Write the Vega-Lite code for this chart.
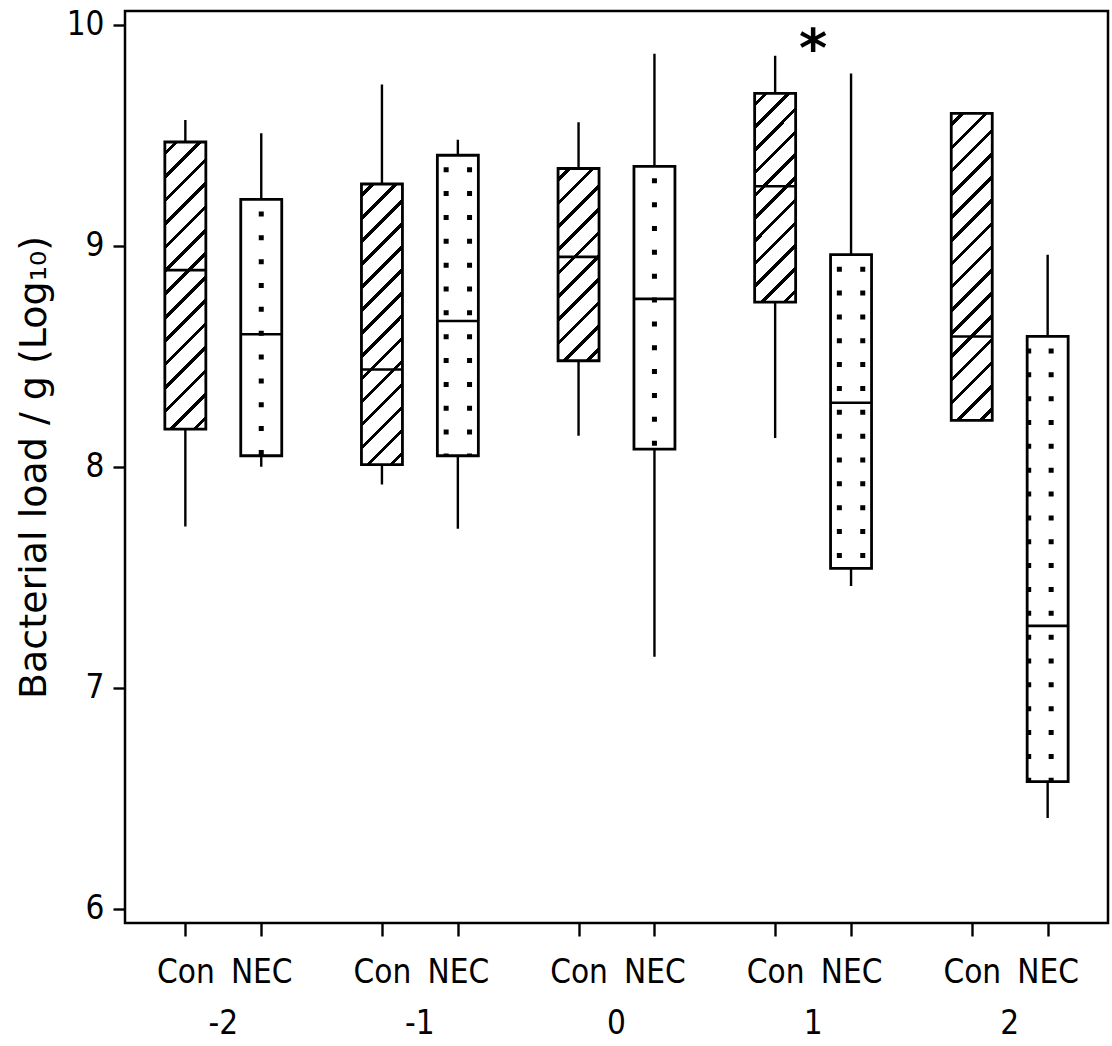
{
  "$schema": "https://vega.github.io/schema/vega-lite/v6.json",
  "width": 983,
  "height": 912,
  "autosize": {"type": "none"},
  "padding": {"left": 125, "top": 11, "right": 4, "bottom": 123},
  "background": "white",
  "config": {
    "view": {"stroke": "black", "strokeWidth": 2.5},
    "axis": {
      "labelFont": "DejaVu Sans Condensed",
      "labelFontSize": 33,
      "labelColor": "black",
      "tickColor": "black",
      "tickWidth": 2.4,
      "domain": false,
      "grid": false,
      "titleColor": "black"
    }
  },
  "data": {
    "values": [
      {"group": "-2", "treatment": "Con", "lower": 7.73, "q1": 8.17, "median": 8.89, "q3": 9.47, "upper": 9.57},
      {"group": "-2", "treatment": "NEC", "lower": 8.0, "q1": 8.05, "median": 8.6, "q3": 9.21, "upper": 9.51},
      {"group": "-1", "treatment": "Con", "lower": 7.92, "q1": 8.01, "median": 8.44, "q3": 9.28, "upper": 9.73},
      {"group": "-1", "treatment": "NEC", "lower": 7.72, "q1": 8.05, "median": 8.66, "q3": 9.41, "upper": 9.48},
      {"group": "0", "treatment": "Con", "lower": 8.14, "q1": 8.48, "median": 8.95, "q3": 9.35, "upper": 9.56},
      {"group": "0", "treatment": "NEC", "lower": 7.14, "q1": 8.08, "median": 8.76, "q3": 9.36, "upper": 9.87},
      {"group": "1", "treatment": "Con", "lower": 8.13, "q1": 8.745, "median": 9.27, "q3": 9.69, "upper": 9.86},
      {"group": "1", "treatment": "NEC", "lower": 7.46, "q1": 7.54, "median": 8.29, "q3": 8.96, "upper": 9.78},
      {"group": "2", "treatment": "Con", "lower": 8.21, "q1": 8.21, "median": 8.59, "q3": 9.6, "upper": 9.6},
      {"group": "2", "treatment": "NEC", "lower": 6.41, "q1": 6.575, "median": 7.28, "q3": 8.59, "upper": 8.96}
    ]
  },
  "resolve": {"axis": {"x": "independent", "y": "independent"}},
  "layer": [
    {
      "mark": {"type": "rule", "strokeWidth": 2.4, "color": "black"},
      "encoding": {
        "x": {"field": "group", "type": "nominal", "scale": {"domain": ["-2", "-1", "0", "1", "2"], "paddingInner": 0, "paddingOuter": 0},
              "axis": {"orient": "bottom", "title": null, "labelExpr": "'Con'", "tickOffset": -37.95, "tickSize": 13, "labelPadding": 20, "labelAngle": 0}},
        "xOffset": {"field": "treatment", "type": "nominal", "scale": {"domain": ["Con", "NEC"], "paddingInner": 0.46, "paddingOuter": 0.525}},
        "y": {"field": "lower", "type": "quantitative", "scale": {"domain": [5.935, 10.063], "nice": false, "zero": false},
              "axis": {"orient": "left", "title": "Bacterial load / g (Log₁₀)", "values": [6, 7, 8, 9, 10], "tickSize": 12, "labelPadding": 9,
                       "titleFont": "DejaVu Sans", "titleFontSize": 38, "titleFontWeight": "normal", "titlePadding": 13}},
        "y2": {"field": "upper"}
      }
    },
    {
      "mark": {"type": "bar", "stroke": "black", "strokeWidth": 2.8},
      "encoding": {
        "x": {"field": "group", "type": "nominal", "scale": {"domain": ["-2", "-1", "0", "1", "2"], "paddingInner": 0, "paddingOuter": 0},
              "axis": {"orient": "bottom", "title": null, "labelExpr": "'NEC'", "tickOffset": 37.95, "tickSize": 13, "labelPadding": 20, "labelAngle": 0}},
        "xOffset": {"field": "treatment", "type": "nominal", "scale": {"domain": ["Con", "NEC"], "paddingInner": 0.46, "paddingOuter": 0.525}},
        "y": {"field": "q1", "type": "quantitative", "axis": null},
        "y2": {"field": "q3"},
        "fill": {
          "condition": [
            {"test": "datum.treatment === 'Con' && datum.group === '-2'", "value": {"gradient": "linear", "x1": 0, "y1": 0, "x2": 0.1597, "y2": 1.12, "stops": [
              {"offset": 0, "color": "white"},
              {"offset": 0.0286, "color": "white"}, {"offset": 0.0286, "color": "black"}, {"offset": 0.0429, "color": "black"}, {"offset": 0.0429, "color": "white"},
              {"offset": 0.1000, "color": "white"}, {"offset": 0.1000, "color": "black"}, {"offset": 0.1143, "color": "black"}, {"offset": 0.1143, "color": "white"},
              {"offset": 0.1714, "color": "white"}, {"offset": 0.1714, "color": "black"}, {"offset": 0.1857, "color": "black"}, {"offset": 0.1857, "color": "white"},
              {"offset": 0.2429, "color": "white"}, {"offset": 0.2429, "color": "black"}, {"offset": 0.2571, "color": "black"}, {"offset": 0.2571, "color": "white"},
              {"offset": 0.3143, "color": "white"}, {"offset": 0.3143, "color": "black"}, {"offset": 0.3286, "color": "black"}, {"offset": 0.3286, "color": "white"},
              {"offset": 0.3857, "color": "white"}, {"offset": 0.3857, "color": "black"}, {"offset": 0.4000, "color": "black"}, {"offset": 0.4000, "color": "white"},
              {"offset": 0.4571, "color": "white"}, {"offset": 0.4571, "color": "black"}, {"offset": 0.4714, "color": "black"}, {"offset": 0.4714, "color": "white"},
              {"offset": 0.5286, "color": "white"}, {"offset": 0.5286, "color": "black"}, {"offset": 0.5429, "color": "black"}, {"offset": 0.5429, "color": "white"},
              {"offset": 0.6000, "color": "white"}, {"offset": 0.6000, "color": "black"}, {"offset": 0.6143, "color": "black"}, {"offset": 0.6143, "color": "white"},
              {"offset": 0.6714, "color": "white"}, {"offset": 0.6714, "color": "black"}, {"offset": 0.6857, "color": "black"}, {"offset": 0.6857, "color": "white"},
              {"offset": 0.7429, "color": "white"}, {"offset": 0.7429, "color": "black"}, {"offset": 0.7571, "color": "black"}, {"offset": 0.7571, "color": "white"},
              {"offset": 0.8143, "color": "white"}, {"offset": 0.8143, "color": "black"}, {"offset": 0.8286, "color": "black"}, {"offset": 0.8286, "color": "white"},
              {"offset": 0.8857, "color": "white"}, {"offset": 0.8857, "color": "black"}, {"offset": 0.9000, "color": "black"}, {"offset": 0.9000, "color": "white"},
              {"offset": 0.9571, "color": "white"}, {"offset": 0.9571, "color": "black"}, {"offset": 0.9714, "color": "black"}, {"offset": 0.9714, "color": "white"},
              {"offset": 1, "color": "white"}]}},
            {"test": "datum.treatment === 'Con' && datum.group === '-1'", "value": {"gradient": "linear", "x1": 0, "y1": 0, "x2": 0.1641, "y2": 1.1222, "stops": [
              {"offset": 0, "color": "white"},
              {"offset": 0.0286, "color": "white"}, {"offset": 0.0286, "color": "black"}, {"offset": 0.0429, "color": "black"}, {"offset": 0.0429, "color": "white"},
              {"offset": 0.1000, "color": "white"}, {"offset": 0.1000, "color": "black"}, {"offset": 0.1143, "color": "black"}, {"offset": 0.1143, "color": "white"},
              {"offset": 0.1714, "color": "white"}, {"offset": 0.1714, "color": "black"}, {"offset": 0.1857, "color": "black"}, {"offset": 0.1857, "color": "white"},
              {"offset": 0.2429, "color": "white"}, {"offset": 0.2429, "color": "black"}, {"offset": 0.2571, "color": "black"}, {"offset": 0.2571, "color": "white"},
              {"offset": 0.3143, "color": "white"}, {"offset": 0.3143, "color": "black"}, {"offset": 0.3286, "color": "black"}, {"offset": 0.3286, "color": "white"},
              {"offset": 0.3857, "color": "white"}, {"offset": 0.3857, "color": "black"}, {"offset": 0.4000, "color": "black"}, {"offset": 0.4000, "color": "white"},
              {"offset": 0.4571, "color": "white"}, {"offset": 0.4571, "color": "black"}, {"offset": 0.4714, "color": "black"}, {"offset": 0.4714, "color": "white"},
              {"offset": 0.5286, "color": "white"}, {"offset": 0.5286, "color": "black"}, {"offset": 0.5429, "color": "black"}, {"offset": 0.5429, "color": "white"},
              {"offset": 0.6000, "color": "white"}, {"offset": 0.6000, "color": "black"}, {"offset": 0.6143, "color": "black"}, {"offset": 0.6143, "color": "white"},
              {"offset": 0.6714, "color": "white"}, {"offset": 0.6714, "color": "black"}, {"offset": 0.6857, "color": "black"}, {"offset": 0.6857, "color": "white"},
              {"offset": 0.7429, "color": "white"}, {"offset": 0.7429, "color": "black"}, {"offset": 0.7571, "color": "black"}, {"offset": 0.7571, "color": "white"},
              {"offset": 0.8143, "color": "white"}, {"offset": 0.8143, "color": "black"}, {"offset": 0.8286, "color": "black"}, {"offset": 0.8286, "color": "white"},
              {"offset": 0.8857, "color": "white"}, {"offset": 0.8857, "color": "black"}, {"offset": 0.9000, "color": "black"}, {"offset": 0.9000, "color": "white"},
              {"offset": 0.9571, "color": "white"}, {"offset": 0.9571, "color": "black"}, {"offset": 0.9714, "color": "black"}, {"offset": 0.9714, "color": "white"},
              {"offset": 1, "color": "white"}]}},
            {"test": "datum.treatment === 'Con' && datum.group === '0'", "value": {"gradient": "linear", "x1": 0, "y1": 0, "x2": 0.2467, "y2": 1.1602, "stops": [
              {"offset": 0, "color": "white"},
              {"offset": 0.04, "color": "white"}, {"offset": 0.04, "color": "black"}, {"offset": 0.06, "color": "black"}, {"offset": 0.06, "color": "white"},
              {"offset": 0.14, "color": "white"}, {"offset": 0.14, "color": "black"}, {"offset": 0.16, "color": "black"}, {"offset": 0.16, "color": "white"},
              {"offset": 0.24, "color": "white"}, {"offset": 0.24, "color": "black"}, {"offset": 0.26, "color": "black"}, {"offset": 0.26, "color": "white"},
              {"offset": 0.34, "color": "white"}, {"offset": 0.34, "color": "black"}, {"offset": 0.36, "color": "black"}, {"offset": 0.36, "color": "white"},
              {"offset": 0.44, "color": "white"}, {"offset": 0.44, "color": "black"}, {"offset": 0.46, "color": "black"}, {"offset": 0.46, "color": "white"},
              {"offset": 0.54, "color": "white"}, {"offset": 0.54, "color": "black"}, {"offset": 0.56, "color": "black"}, {"offset": 0.56, "color": "white"},
              {"offset": 0.64, "color": "white"}, {"offset": 0.64, "color": "black"}, {"offset": 0.66, "color": "black"}, {"offset": 0.66, "color": "white"},
              {"offset": 0.74, "color": "white"}, {"offset": 0.74, "color": "black"}, {"offset": 0.76, "color": "black"}, {"offset": 0.76, "color": "white"},
              {"offset": 0.84, "color": "white"}, {"offset": 0.84, "color": "black"}, {"offset": 0.86, "color": "black"}, {"offset": 0.86, "color": "white"},
              {"offset": 0.94, "color": "white"}, {"offset": 0.94, "color": "black"}, {"offset": 0.96, "color": "black"}, {"offset": 0.96, "color": "white"},
              {"offset": 1, "color": "white"}]}},
            {"test": "datum.treatment === 'Con' && datum.group === '1'", "value": {"gradient": "linear", "x1": 0, "y1": 0, "x2": 0.2274, "y2": 1.1524, "stops": [
              {"offset": 0, "color": "white"},
              {"offset": 0.0364, "color": "white"}, {"offset": 0.0364, "color": "black"}, {"offset": 0.0545, "color": "black"}, {"offset": 0.0545, "color": "white"},
              {"offset": 0.1273, "color": "white"}, {"offset": 0.1273, "color": "black"}, {"offset": 0.1455, "color": "black"}, {"offset": 0.1455, "color": "white"},
              {"offset": 0.2182, "color": "white"}, {"offset": 0.2182, "color": "black"}, {"offset": 0.2364, "color": "black"}, {"offset": 0.2364, "color": "white"},
              {"offset": 0.3091, "color": "white"}, {"offset": 0.3091, "color": "black"}, {"offset": 0.3273, "color": "black"}, {"offset": 0.3273, "color": "white"},
              {"offset": 0.4000, "color": "white"}, {"offset": 0.4000, "color": "black"}, {"offset": 0.4182, "color": "black"}, {"offset": 0.4182, "color": "white"},
              {"offset": 0.4909, "color": "white"}, {"offset": 0.4909, "color": "black"}, {"offset": 0.5091, "color": "black"}, {"offset": 0.5091, "color": "white"},
              {"offset": 0.5818, "color": "white"}, {"offset": 0.5818, "color": "black"}, {"offset": 0.6000, "color": "black"}, {"offset": 0.6000, "color": "white"},
              {"offset": 0.6727, "color": "white"}, {"offset": 0.6727, "color": "black"}, {"offset": 0.6909, "color": "black"}, {"offset": 0.6909, "color": "white"},
              {"offset": 0.7636, "color": "white"}, {"offset": 0.7636, "color": "black"}, {"offset": 0.7818, "color": "black"}, {"offset": 0.7818, "color": "white"},
              {"offset": 0.8545, "color": "white"}, {"offset": 0.8545, "color": "black"}, {"offset": 0.8727, "color": "black"}, {"offset": 0.8727, "color": "white"},
              {"offset": 0.9455, "color": "white"}, {"offset": 0.9455, "color": "black"}, {"offset": 0.9636, "color": "black"}, {"offset": 0.9636, "color": "white"},
              {"offset": 1, "color": "white"}]}},
            {"test": "datum.treatment === 'Con' && datum.group === '2'", "value": {"gradient": "linear", "x1": 0, "y1": 0, "x2": 0.1485, "y2": 1.1136, "stops": [
              {"offset": 0, "color": "white"},
              {"offset": 0.0267, "color": "white"}, {"offset": 0.0267, "color": "black"}, {"offset": 0.0400, "color": "black"}, {"offset": 0.0400, "color": "white"},
              {"offset": 0.0933, "color": "white"}, {"offset": 0.0933, "color": "black"}, {"offset": 0.1067, "color": "black"}, {"offset": 0.1067, "color": "white"},
              {"offset": 0.1600, "color": "white"}, {"offset": 0.1600, "color": "black"}, {"offset": 0.1733, "color": "black"}, {"offset": 0.1733, "color": "white"},
              {"offset": 0.2267, "color": "white"}, {"offset": 0.2267, "color": "black"}, {"offset": 0.2400, "color": "black"}, {"offset": 0.2400, "color": "white"},
              {"offset": 0.2933, "color": "white"}, {"offset": 0.2933, "color": "black"}, {"offset": 0.3067, "color": "black"}, {"offset": 0.3067, "color": "white"},
              {"offset": 0.3600, "color": "white"}, {"offset": 0.3600, "color": "black"}, {"offset": 0.3733, "color": "black"}, {"offset": 0.3733, "color": "white"},
              {"offset": 0.4267, "color": "white"}, {"offset": 0.4267, "color": "black"}, {"offset": 0.4400, "color": "black"}, {"offset": 0.4400, "color": "white"},
              {"offset": 0.4933, "color": "white"}, {"offset": 0.4933, "color": "black"}, {"offset": 0.5067, "color": "black"}, {"offset": 0.5067, "color": "white"},
              {"offset": 0.5600, "color": "white"}, {"offset": 0.5600, "color": "black"}, {"offset": 0.5733, "color": "black"}, {"offset": 0.5733, "color": "white"},
              {"offset": 0.6267, "color": "white"}, {"offset": 0.6267, "color": "black"}, {"offset": 0.6400, "color": "black"}, {"offset": 0.6400, "color": "white"},
              {"offset": 0.6933, "color": "white"}, {"offset": 0.6933, "color": "black"}, {"offset": 0.7067, "color": "black"}, {"offset": 0.7067, "color": "white"},
              {"offset": 0.7600, "color": "white"}, {"offset": 0.7600, "color": "black"}, {"offset": 0.7733, "color": "black"}, {"offset": 0.7733, "color": "white"},
              {"offset": 0.8267, "color": "white"}, {"offset": 0.8267, "color": "black"}, {"offset": 0.8400, "color": "black"}, {"offset": 0.8400, "color": "white"},
              {"offset": 0.8933, "color": "white"}, {"offset": 0.8933, "color": "black"}, {"offset": 0.9067, "color": "black"}, {"offset": 0.9067, "color": "white"},
              {"offset": 0.9600, "color": "white"}, {"offset": 0.9600, "color": "black"}, {"offset": 0.9733, "color": "black"}, {"offset": 0.9733, "color": "white"},
              {"offset": 1, "color": "white"}]}}
          ],
          "value": "white"
        }
      }
    },
    {
      "transform": [{"filter": "datum.treatment === 'NEC' && (datum.group === '-2' || datum.group === '0')"}],
      "mark": {"type": "rule", "strokeWidth": 5, "strokeDash": [5, 18.85], "strokeDashOffset": 11.85, "strokeCap": "butt", "color": "black"},
      "encoding": {
        "x": {"field": "group", "type": "nominal", "axis": null},
        "xOffset": {"value": 136.25},
        "y": {"field": "q3", "type": "quantitative", "axis": null},
        "y2": {"field": "q1"}
      }
    },
    {
      "transform": [{"filter": "datum.treatment === 'NEC' && (datum.group === '-1' || datum.group === '1')"}],
      "mark": {"type": "rule", "strokeWidth": 5, "strokeDash": [5, 18.85], "strokeDashOffset": 11.85, "strokeCap": "butt", "color": "black"},
      "encoding": {
        "x": {"field": "group", "type": "nominal", "axis": null},
        "xOffset": {"value": 124.55},
        "y": {"field": "q3", "type": "quantitative", "axis": null},
        "y2": {"field": "q1"}
      }
    },
    {
      "transform": [{"filter": "datum.treatment === 'NEC' && (datum.group === '-1' || datum.group === '1')"}],
      "mark": {"type": "rule", "strokeWidth": 5, "strokeDash": [5, 18.85], "strokeDashOffset": 11.85, "strokeCap": "butt", "color": "black"},
      "encoding": {
        "x": {"field": "group", "type": "nominal", "axis": null},
        "xOffset": {"value": 147.95},
        "y": {"field": "q3", "type": "quantitative", "axis": null},
        "y2": {"field": "q1"}
      }
    },
    {
      "transform": [{"filter": "datum.treatment === 'NEC' && datum.group === '2'"}],
      "mark": {"type": "rule", "strokeWidth": 5, "strokeDash": [5, 18.85], "strokeDashOffset": 11.85, "strokeCap": "butt", "color": "black"},
      "encoding": {
        "x": {"field": "group", "type": "nominal", "axis": null},
        "xOffset": {"value": 117.3},
        "y": {"field": "q3", "type": "quantitative", "axis": null},
        "y2": {"field": "q1"}
      }
    },
    {
      "transform": [{"filter": "datum.treatment === 'NEC' && datum.group === '2'"}],
      "mark": {"type": "rule", "strokeWidth": 5, "strokeDash": [5, 18.85], "strokeDashOffset": 11.85, "strokeCap": "butt", "color": "black"},
      "encoding": {
        "x": {"field": "group", "type": "nominal", "axis": null},
        "xOffset": {"value": 139.75},
        "y": {"field": "q3", "type": "quantitative", "axis": null},
        "y2": {"field": "q1"}
      }
    },
    {
      "mark": {"type": "tick", "orient": "horizontal", "size": 41, "thickness": 2.6, "color": "black", "opacity": 1},
      "encoding": {
        "x": {"field": "group", "type": "nominal",
              "axis": {"orient": "bottom", "title": null, "ticks": false, "tickSize": 0, "labelPadding": 84, "labelAngle": 0}},
        "xOffset": {"field": "treatment", "type": "nominal"},
        "y": {"field": "median", "type": "quantitative", "axis": null}
      }
    },
    {
      "data": {"values": [{"group": "1", "y": 9.864, "label": "*"}]},
      "mark": {"type": "text", "font": "DejaVu Sans", "fontWeight": "bold", "fontSize": 54, "baseline": "middle", "align": "center", "color": "black", "dy": -4},
      "encoding": {
        "x": {"field": "group", "type": "nominal", "axis": null},
        "y": {"field": "y", "type": "quantitative", "axis": null},
        "text": {"field": "label"}
      }
    }
  ]
}
